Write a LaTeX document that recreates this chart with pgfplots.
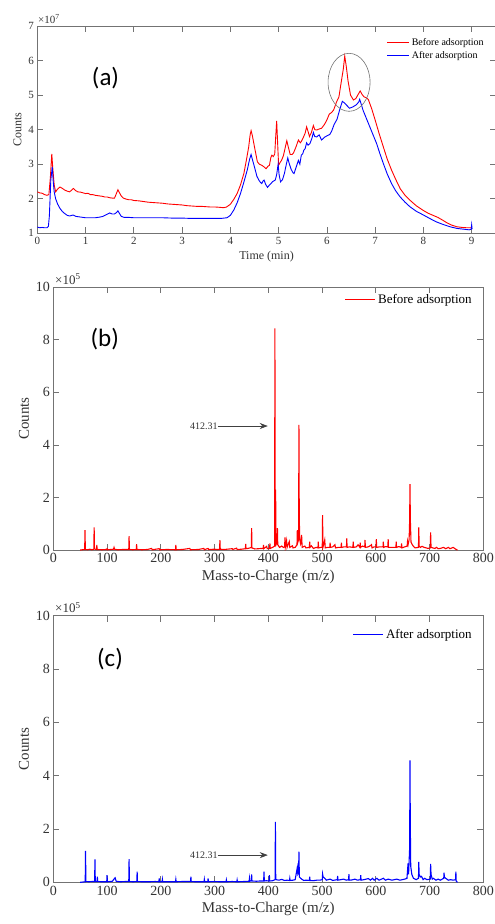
\documentclass[border=0pt]{standalone}
\usepackage{fontspec}
\setmainfont{Liberation Serif}
\newfontfamily\panelfont{Carlito}
\usepackage{pgfplots}
\pgfplotsset{compat=1.18}
\usetikzlibrary{arrows.meta}
\pgfkeys{/pgf/number format/assume math mode=true}

\pgfplotsset{
  msstyle/.style={
    scale only axis,
    axis line style={black!55, line width=0.7pt},
    tick style={black!55, line width=0.7pt},
    tick align=inside,
    major tick length=6pt,
    tick label style={text=black!80},
    label style={text=black!80},
    /pgf/number format/assume math mode=true,
    legend cell align=left,
    legend style={draw=none, fill=none},
    legend image code/.code={\draw[##1, line width=1.2pt] (0pt,0pt) -- (22pt,0pt);},
  }
}

\begin{document}
\begin{tikzpicture}
\useasboundingbox (0pt,0pt) rectangle (495pt,-924pt);

% ---------------- (a) chromatogram
\begin{axis}[msstyle, at={(37.3pt,-233.3pt)}, anchor=south west,
  width=458.5pt, height=207.3pt,
  xmin=0, xmax=9.5, ymin=1, ymax=7,
  xtick={0,...,9}, ytick={1,...,7},
  tick label style={font=\fontsize{11}{11}\selectfont},
  label style={font=\fontsize{12}{12}\selectfont},
  xlabel={Time (min)}, ylabel={Counts},
  legend style={font=\fontsize{10}{10}\selectfont, at={(0.985,0.96)}, anchor=north east}]
\addplot[red, line width=0.9pt] coordinates {
(0,2.20)(0.05,2.17)(0.1,2.16)(0.15,2.12)(0.2,2.10)(0.24,2.12)(0.27,2.6)(0.30,3.3)(0.32,2.9)(0.35,2.4)
(0.38,2.2)(0.42,2.28)(0.47,2.34)(0.52,2.30)(0.57,2.25)(0.62,2.22)(0.67,2.20)(0.72,2.26)(0.75,2.30)(0.79,2.24)
(0.84,2.20)(0.9,2.19)(0.95,2.17)(1.0,2.15)(1.05,2.16)(1.1,2.12)(1.15,2.12)(1.2,2.10)(1.25,2.09)(1.3,2.08)
(1.35,2.07)(1.4,2.05)(1.45,2.05)(1.5,2.03)(1.55,2.02)(1.6,2.02)(1.63,2.12)(1.67,2.26)(1.70,2.18)(1.74,2.08)
(1.78,2.02)(1.84,1.99)(1.9,1.97)(1.95,1.97)(2.0,1.95)(2.1,1.94)(2.2,1.92)(2.3,1.90)(2.4,1.89)(2.5,1.88)
(2.6,1.87)(2.7,1.85)(2.8,1.84)(2.9,1.83)(3.0,1.82)(3.1,1.80)(3.2,1.79)(3.3,1.78)(3.4,1.78)(3.5,1.77)
(3.6,1.76)(3.7,1.76)(3.8,1.75)(3.86,1.74)(3.92,1.76)(4.0,1.84)(4.07,1.98)(4.14,2.15)(4.21,2.40)(4.28,2.73)
(4.33,3.1)(4.38,3.50)(4.41,3.85)(4.43,3.97)(4.46,3.80)(4.50,3.50)(4.56,3.07)(4.60,3.0)(4.65,2.97)(4.70,2.92)
(4.74,2.87)(4.78,2.94)(4.81,2.97)(4.84,3.2)(4.86,3.26)(4.89,3.22)(4.92,3.3)(4.94,3.8)(4.96,4.25)(4.98,3.6)
(5.0,2.97)(5.03,3.05)(5.06,3.11)(5.1,3.25)(5.14,3.5)(5.17,3.68)(5.20,3.5)(5.24,3.28)(5.28,3.28)(5.31,3.33)
(5.36,3.5)(5.41,3.70)(5.45,3.62)(5.48,3.68)(5.52,3.80)(5.55,3.9)(5.58,4.08)(5.61,3.95)(5.64,3.80)(5.68,3.92)
(5.72,4.12)(5.75,4.0)(5.79,3.99)(5.84,4.02)(5.89,4.04)(5.95,4.15)(6.0,4.28)(6.05,4.45)(6.1,4.5)(6.14,4.57)
(6.2,4.80)(6.25,4.95)(6.30,5.40)(6.34,5.75)(6.37,6.13)(6.40,5.85)(6.44,5.40)(6.49,5.0)(6.55,4.86)(6.6,4.9)
(6.64,5.0)(6.69,5.12)(6.73,5.02)(6.77,4.95)(6.82,4.92)(6.86,4.87)(6.93,4.6)(7.0,4.28)(7.08,3.9)(7.17,3.50)
(7.25,3.15)(7.34,2.83)(7.43,2.55)(7.52,2.29)(7.62,2.10)(7.72,1.96)(7.85,1.80)(8.0,1.66)(8.1,1.58)(8.2,1.52)
(8.3,1.46)(8.4,1.38)(8.48,1.31)(8.58,1.24)(8.69,1.19)(8.8,1.17)(8.9,1.16)(9.0,1.16)};
\addlegendentry{Before adsorption}
\addplot[blue, line width=0.9pt] coordinates {
(0,1.18)(0.05,1.16)(0.1,1.17)(0.15,1.16)(0.2,1.16)(0.23,1.2)(0.25,1.5)(0.28,2.54)(0.31,2.92)(0.33,2.5)
(0.35,2.2)(0.38,2.0)(0.42,1.85)(0.47,1.72)(0.52,1.63)(0.57,1.57)(0.62,1.52)(0.67,1.50)(0.74,1.53)(0.8,1.49)
(0.9,1.47)(1.0,1.45)(1.1,1.45)(1.2,1.45)(1.3,1.47)(1.36,1.49)(1.43,1.54)(1.50,1.59)(1.55,1.56)(1.6,1.56)
(1.64,1.60)(1.67,1.65)(1.70,1.58)(1.74,1.49)(1.8,1.46)(1.9,1.46)(2.0,1.45)(2.2,1.45)(2.4,1.45)(2.6,1.45)
(2.8,1.44)(3.0,1.44)(3.2,1.43)(3.4,1.43)(3.6,1.43)(3.8,1.43)(3.93,1.45)(4.0,1.52)(4.07,1.67)(4.14,1.88)
(4.21,2.15)(4.28,2.48)(4.35,2.83)(4.40,3.15)(4.43,3.28)(4.46,3.12)(4.50,2.92)(4.55,2.65)(4.59,2.54)(4.62,2.48)
(4.65,2.44)(4.68,2.52)(4.70,2.54)(4.73,2.42)(4.77,2.33)(4.80,2.38)(4.84,2.44)(4.88,2.50)(4.93,2.54)(4.96,2.7)
(4.99,3.0)(5.01,2.7)(5.04,2.49)(5.08,2.55)(5.12,2.73)(5.16,3.0)(5.19,3.18)(5.22,3.02)(5.26,2.85)(5.3,2.75)
(5.32,2.73)(5.36,2.9)(5.41,3.11)(5.44,3.0)(5.47,3.26)(5.5,3.3)(5.52,3.40)(5.55,3.45)(5.58,3.62)(5.61,3.55)
(5.65,3.60)(5.69,3.75)(5.72,3.92)(5.75,3.8)(5.79,3.79)(5.84,3.85)(5.89,3.70)(5.95,3.78)(6.0,3.82)(6.06,3.86)
(6.1,3.96)(6.15,4.15)(6.21,4.30)(6.26,4.55)(6.32,4.82)(6.36,4.78)(6.40,4.72)(6.47,4.62)(6.54,4.66)(6.61,4.72)
(6.66,4.80)(6.68,4.88)(6.72,4.7)(6.75,4.56)(6.82,4.32)(6.89,4.08)(6.96,3.84)(7.03,3.60)(7.10,3.30)(7.17,3.02)
(7.25,2.72)(7.34,2.44)(7.43,2.22)(7.52,2.05)(7.62,1.90)(7.72,1.77)(7.85,1.64)(8.0,1.53)(8.13,1.43)(8.27,1.33)
(8.4,1.26)(8.55,1.19)(8.7,1.14)(8.83,1.12)(8.95,1.10)(8.99,1.12)(9.0,1.25)(9.01,1.12)};
\addlegendentry{After adsorption}
\draw[black!55, line width=0.6pt] (axis cs:6.46,5.37) ellipse [x radius=21pt, y radius=29pt];
\end{axis}
\node[anchor=base west, inner sep=0pt, text=black!80, font=\fontsize{11}{11}\selectfont] at (38pt,-23.5pt) {×10\textsuperscript{7}};
\node[font=\panelfont\fontsize{25}{25}\selectfont] at (105.5pt,-78pt) {(a)};

% ---------------- (b) spectrum before
\begin{axis}[msstyle, at={(53.3pt,-550pt)}, anchor=south west,
  width=430pt, height=262.7pt,
  xmin=0, xmax=800, ymin=0, ymax=10,
  xtick={0,100,...,800}, ytick={0,2,...,10},
  tick label style={font=\fontsize{14}{14}\selectfont},
  label style={font=\fontsize{15}{15}\selectfont},
  xlabel={Mass-to-Charge (m/z)}, ylabel={Counts},
  legend image code/.code={\draw[#1, line width=1.5pt] (0pt,0pt) -- (30pt,0pt);},
  legend style={font=\fontsize{13}{13}\selectfont, at={(0.985,0.99)}, anchor=north east}]
\addplot[red, line width=1.1pt] coordinates {
(50,0)(58.4,0.02)(59,0.76)(59.6,0.02)(64,0.01)(68,0.03)(72,0.01)(75.4,0.03)(76,0.86)(76.6,0.05)
(78,0.03)(80.4,0.02)(81,0.19)(81.6,0.02)(90,0.01)(99,0.02)(100,0.05)(101,0.01)(112,0.03)(113,0.1)
(114,0.03)(120,0.01)(130,0.02)(140.4,0.02)(141,0.53)(141.6,0.02)(148,0.01)(154.4,0.02)(155,0.22)(155.6,0.02)
(165,0.01)(175,0.02)(183,0.06)(184,0.01)(197,0.05)(198,0.01)(212,0.02)(227.4,0.01)(228,0.19)(228.6,0.01)
(240,0.02)(254,0.06)(255,0.01)(270,0.02)(280,0.06)(281,0.01)(288,0.06)(289,0.02)(300,0.03)(305,0.02)
(309.4,0.03)(310,0.38)(310.6,0.03)(318,0.02)(333,0.05)(334,0.02)(341,0.07)(342,0.02)(350,0.03)(357.4,0.05)
(358,0.23)(358.6,0.05)(362,0.06)(366,0.08)(368.4,0.1)(369,0.83)(369.6,0.08)(375,0.04)(382,0.05)(387,0.06)
(390.4,0.05)(391,0.19)(391.6,0.05)(397,0.14)(398,0.05)(402.4,0.06)(403,0.25)(403.6,0.06)(408,0.1)(411.8,0.15)
(412.3,8.44)(412.8,0.4)(413.6,2.3)(414.4,0.2)(416.4,0.3)(417,0.83)(417.6,0.2)(421,0.1)(425,0.15)(428,0.1)
(430.4,0.12)(431,0.48)(431.6,0.1)(434,0.36)(435,0.1)(439,0.32)(440,0.1)(445,0.16)(446,0.08)(450,0.1)
(453.4,0.2)(454,0.76)(455,0.3)(456.4,0.4)(457,4.76)(457.6,1.33)(458.4,0.4)(460,0.25)(462,0.57)(463,0.1)
(468,0.15)(470,0.08)(476.4,0.1)(477,0.32)(477.6,0.1)(480,0.16)(484,0.06)(489,0.1)(492.4,0.08)(493,0.32)
(493.6,0.08)(498,0.1)(500.4,0.1)(501,1.33)(501.6,0.1)(503,0.2)(505,0.38)(506,0.08)(510,0.1)(514.4,0.1)
(515,0.28)(515.6,0.1)(520,0.12)(524,0.2)(525,0.08)(530,0.1)(535.4,0.1)(536,0.28)(536.6,0.1)(541,0.12)
(545.4,0.12)(546,0.44)(546.6,0.1)(551,0.12)(557.4,0.1)(558,0.32)(558.6,0.1)(564,0.12)(567,0.2)(570.4,0.1)
(571,0.28)(571.6,0.1)(575,0.15)(579.4,0.12)(580,0.38)(580.6,0.1)(586,0.12)(591,0.18)(592,0.2)(593,0.08)
(597,0.12)(600.4,0.12)(601,0.41)(601.6,0.1)(607,0.12)(613.4,0.12)(614,0.32)(614.6,0.1)(618,0.13)(622.4,0.12)
(623,0.41)(623.6,0.1)(630,0.1)(637.4,0.1)(638,0.32)(638.6,0.1)(643,0.13)(647.4,0.1)(648,0.25)(648.6,0.08)
(654,0.12)(658.4,0.15)(659,0.32)(660,0.2)(662,0.4)(663,1.14)(663.6,2.51)(664.3,1.14)(665.5,0.3)(668,0.2)
(670,0.14)(673,0.08)(679.4,0.1)(680,0.86)(680.6,0.15)(683,0.1)(686,0.14)(690,0.1)(694,0.08)(697,0.06)
(701.4,0.08)(702,0.67)(702.8,0.1)(706,0.08)(710,0.06)(713,0.1)(716,0.05)(720,0.06)(726,0.1)(730,0.05)
(735,0.1)(738,0.05)(744,0.1)(748,0.04)(752,0)};
\addlegendentry{Before adsorption}
\draw[black!75, line width=0.6pt, -{Stealth[length=8pt,width=6pt]}] (axis cs:306,4.72) -- (axis cs:399,4.72);
\node[anchor=east, inner sep=0pt, text=black!80, font=\fontsize{10}{10}\selectfont] at (axis cs:306,4.72) {412.31};
\end{axis}
\node[anchor=base west, inner sep=0pt, text=black!80, font=\fontsize{13}{13}\selectfont] at (55pt,-284pt) {×10\textsuperscript{5}};
\node[font=\panelfont\fontsize{25}{25}\selectfont] at (104.7pt,-339pt) {(b)};

% ---------------- (c) spectrum after
\begin{axis}[msstyle, at={(53.3pt,-882.3pt)}, anchor=south west,
  width=430pt, height=266.6pt,
  xmin=0, xmax=800, ymin=0, ymax=10,
  xtick={0,100,...,800}, ytick={0,2,...,10},
  tick label style={font=\fontsize{14}{14}\selectfont},
  label style={font=\fontsize{15}{15}\selectfont},
  xlabel={Mass-to-Charge (m/z)}, ylabel={Counts},
  legend image code/.code={\draw[#1, line width=1.5pt] (0pt,0pt) -- (30pt,0pt);},
  legend style={font=\fontsize{13}{13}\selectfont, at={(0.985,0.965)}, anchor=north east}]
\addplot[blue, line width=1.1pt] coordinates {
(50,0)(59.4,0.02)(60,1.18)(60.6,0.03)(66,0.02)(72,0.03)(76.9,0.03)(77.5,0.86)(78.1,0.03)(81.4,0.03)
(82,0.21)(82.6,0.03)(90,0.02)(99.4,0.02)(100,0.27)(100.6,0.02)(110,0.04)(112,0.1)(115,0.17)(117,0.04)
(125,0.02)(134,0.03)(140.4,0.03)(141,0.87)(141.6,0.03)(148,0.02)(155.4,0.03)(156,0.40)(156.6,0.03)(165,0.02)
(178,0.02)(190,0.03)(196.4,0.02)(197,0.15)(197.6,0.02)(202.4,0.02)(203,0.11)(203.6,0.02)(215,0.02)(227.4,0.02)
(228,0.11)(228.6,0.02)(240,0.03)(255.4,0.03)(256,0.21)(256.6,0.03)(265,0.02)(280.4,0.02)(281,0.11)(281.6,0.02)
(287.4,0.02)(288,0.15)(288.6,0.02)(300,0.03)(310,0.02)(321.4,0.02)(322,0.09)(322.6,0.02)(333,0.03)(341.4,0.02)
(342,0.09)(342.6,0.02)(355,0.03)(364.4,0.04)(365,0.15)(365.6,0.04)(368.4,0.06)(369,0.30)(369.6,0.05)(378,0.04)
(385,0.05)(391.4,0.05)(392,0.40)(392.6,0.05)(396,0.06)(401.4,0.05)(402,0.27)(402.6,0.05)(408,0.06)(412.7,0.1)
(413.2,2.27)(413.8,0.2)(414.3,0.1)(420,0.08)(425,0.11)(430,0.07)(435,0.08)(439.4,0.07)(440,0.15)(440.6,0.07)
(446,0.08)(450,0.1)(454,0.56)(455,0.3)(456.4,0.35)(457,1.15)(457.8,0.2)(462,0.12)(466,0.07)(470,0.08)
(476.4,0.07)(477,0.21)(477.6,0.07)(483,0.06)(490,0.08)(496,0.08)(500.4,0.1)(501,0.31)(502,0.2)(505,0.15)
(508,0.08)(515,0.12)(520,0.07)(528.4,0.1)(529,0.24)(529.6,0.08)(535,0.1)(540,0.12)(545,0.08)(549.4,0.1)
(550,0.31)(550.6,0.08)(556,0.09)(561,0.12)(566,0.08)(571.4,0.1)(572,0.27)(572.6,0.08)(578,0.1)(586,0.14)
(590,0.08)(594,0.15)(597,0.08)(602,0.15)(606,0.08)(614,0.15)(618,0.08)(623,0.12)(630,0.08)(639,0.12)
(645,0.08)(654,0.12)(658,0.15)(660,0.71)(661,0.3)(663,1.3)(663.6,4.57)(664.2,2.2)(665,0.6)(667,0.3)
(670,0.15)(675,0.1)(679.4,0.15)(680,0.77)(680.6,0.3)(683,0.2)(685,0.22)(688,0.1)(691,0.15)(695,0.1)
(701.4,0.12)(702,0.69)(702.8,0.3)(705,0.12)(707,0.15)(712,0.08)(716,0.12)(720,0.08)(726.4,0.15)(727,0.36)
(727.6,0.2)(730,0.15)(735,0.08)(739,0.1)(744,0.08)(748.4,0.1)(749,0.40)(749.6,0.05)(752,0)};
\addlegendentry{After adsorption}
\draw[black!75, line width=0.6pt, -{Stealth[length=8pt,width=6pt]}] (axis cs:306,1.02) -- (axis cs:399,1.02);
\node[anchor=east, inner sep=0pt, text=black!80, font=\fontsize{10}{10}\selectfont] at (axis cs:306,1.02) {412.31};
\end{axis}
\node[anchor=base west, inner sep=0pt, text=black!80, font=\fontsize{13}{13}\selectfont] at (55pt,-612.4pt) {×10\textsuperscript{5}};
\node[font=\panelfont\fontsize{25}{25}\selectfont] at (110pt,-659pt) {(c)};
\end{tikzpicture}
\end{document}
